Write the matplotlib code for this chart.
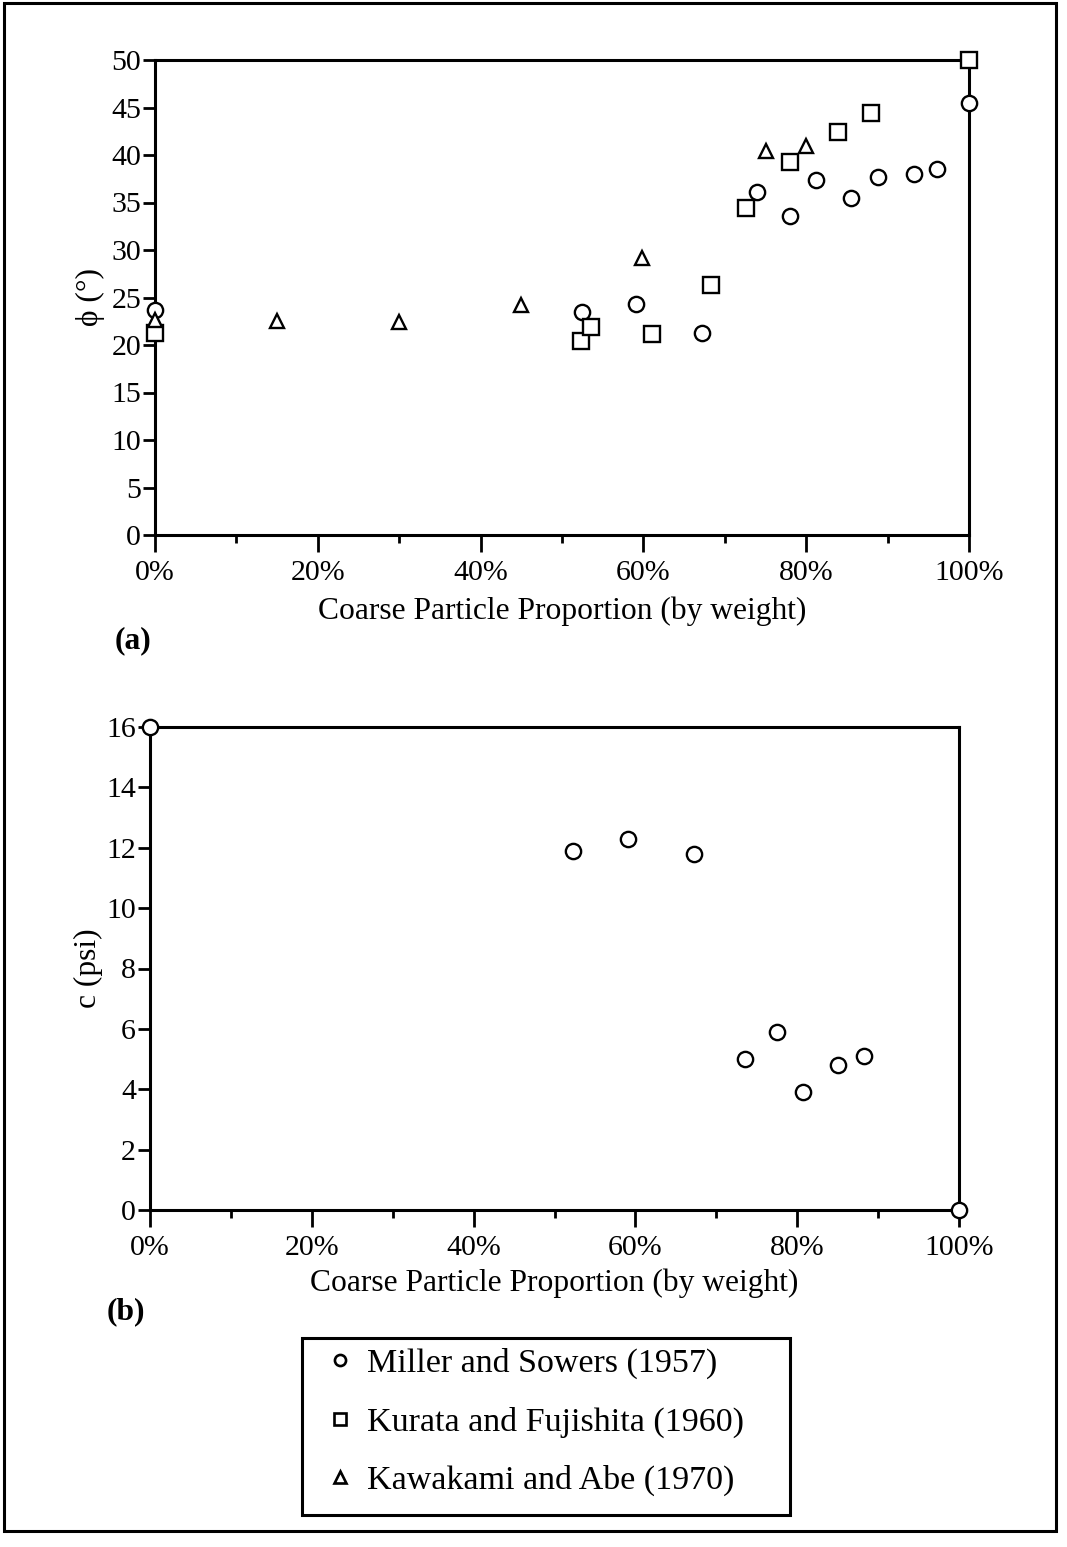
import matplotlib
matplotlib.use("Agg")
import matplotlib.pyplot as plt
from matplotlib.lines import Line2D
from matplotlib.patches import Rectangle
from matplotlib.ticker import FuncFormatter, MultipleLocator

plt.rcParams['font.family'] = ['Liberation Serif', 'DejaVu Serif']

# ---------------- data ----------------
# friction angle phi (deg) vs coarse particle proportion (%)
ms_phi_x = [0, 52.4, 59.1, 67.2, 74.0, 78.0, 81.2, 85.5, 88.8, 93.2, 96.1, 100]
ms_phi_y = [23.7, 23.5, 24.3, 21.3, 36.1, 33.6, 37.4, 35.5, 37.7, 38.0, 38.5, 45.5]
kf_phi_x = [0, 52.3, 53.6, 61.0, 68.3, 72.6, 78.0, 83.9, 88.0, 100]
kf_phi_y = [21.3, 20.4, 21.9, 21.2, 26.3, 34.4, 39.3, 42.4, 44.4, 50.0]
ka_phi_x = [0, 15, 30, 45, 59.8, 75, 80]
ka_phi_y = [22.6, 22.5, 22.4, 24.2, 29.2, 40.4, 41.0]
# cohesion c (psi)
ms_c_x = [0, 52.3, 59.1, 67.2, 73.5, 77.5, 80.7, 85.0, 88.3, 100]
ms_c_y = [16.0, 11.9, 12.3, 11.8, 5.0, 5.9, 3.9, 4.8, 5.1, 0.0]

labels = ["Miller and Sowers (1957)", "Kurata and Fujishita (1960)",
          "Kawakami and Abe (1970)"]
xlabel = "Coarse Particle Proportion (by weight)"

W, H = 1067, 1547
fig = plt.figure(figsize=(W / 100, H / 100), dpi=100)
TFS = 21.5   # tick labels
LFS = 22.7   # axis labels
GFS = 24.5   # legend

def px_axes(x0, y0, x1, y1):
    return fig.add_axes([x0 / W, 1 - y1 / H, (x1 - x0) / W, (y1 - y0) / H])

mk = dict(ls='none', mfc='white', mec='black', mew=1.7, clip_on=False, zorder=5)

def style(ax, ymax, ystep):
    ax.set_xlim(0, 100)
    ax.set_ylim(0, ymax)
    for s in ax.spines.values():
        s.set_linewidth(2.2)
    ax.xaxis.set_major_locator(MultipleLocator(20))
    ax.xaxis.set_minor_locator(MultipleLocator(10))
    ax.yaxis.set_major_locator(MultipleLocator(ystep))
    ax.xaxis.set_major_formatter(FuncFormatter(lambda v, p: f"{v:.0f}%"))
    ax.tick_params(axis='x', which='major', direction='out', length=12, width=2,
                   labelsize=TFS, pad=6)
    ax.tick_params(axis='x', which='minor', direction='out', length=6, width=2)
    ax.tick_params(axis='y', which='major', direction='out', length=9, width=2,
                   labelsize=TFS, pad=1)
    ax.tick_params(top=False, right=False)

# ---------------- panel (a) ----------------
ax1 = px_axes(155, 60, 969, 535)
ax1.plot(ms_phi_x, ms_phi_y, marker='o', ms=11, **mk)
ax1.plot(kf_phi_x, kf_phi_y, marker='s', ms=11, **mk)
ax1.plot(ka_phi_x, ka_phi_y, marker='^', ms=10.5, **mk)
style(ax1, 50, 5)
ax1.set_xlabel(xlabel, fontsize=LFS)
ax1.xaxis.set_label_coords(0.5, -0.13)
ax1.set_ylabel("ϕ (°)", fontsize=LFS)
ax1.yaxis.set_label_coords(-0.062, 0.5)
ax1.text(-0.027, -0.222, "(a)", transform=ax1.transAxes, fontsize=LFS,
         fontweight='bold', ha='center', va='center')

# ---------------- panel (b) ----------------
ax2 = px_axes(150, 727, 959, 1210)
ax2.plot(ms_c_x, ms_c_y, marker='o', ms=11, **mk)
style(ax2, 16, 2)
ax2.set_xlabel(xlabel, fontsize=LFS)
ax2.xaxis.set_label_coords(0.5, -0.122)
ax2.set_ylabel("c (psi)", fontsize=LFS)
ax2.yaxis.set_label_coords(-0.058, 0.5)
ax2.text(-0.03, -0.21, "(b)", transform=ax2.transAxes, fontsize=LFS,
         fontweight='bold', ha='center', va='center')

# ---------------- legend ----------------
lmk = dict(ls='none', mfc='white', mec='black', mew=1.9)
handles = [Line2D([], [], marker='o', ms=8, **lmk),
           Line2D([], [], marker='s', ms=8, **lmk),
           Line2D([], [], marker='^', ms=8, **lmk)]
fig.legend(handles, labels, loc='upper left',
           bbox_to_anchor=(323 / W, 1 - 1348 / H), frameon=False,
           fontsize=GFS, handlelength=1.0, handletextpad=0.28,
           labelspacing=0.8, borderpad=0, borderaxespad=0)
fig.add_artist(Rectangle((302 / W, 1 - 1515 / H), (790 - 302) / W,
                         (1515 - 1338) / H, transform=fig.transFigure,
                         fill=False, lw=2.2, ec='black'))

# outer frame of the figure
fig.add_artist(Rectangle((4 / W, 1 - 1531 / H), (1056 - 4) / W,
                         (1531 - 3) / H, transform=fig.transFigure,
                         fill=False, lw=2.2, ec='black'))

fig.savefig("out.png", dpi=100, facecolor='white')
